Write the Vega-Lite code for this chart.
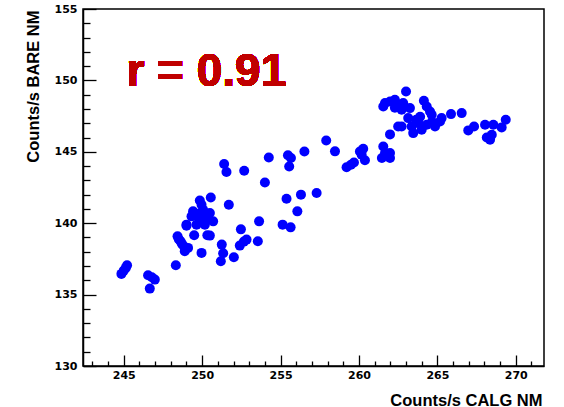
{
  "$schema": "https://vega.github.io/schema/vega-lite/v6.json",
  "autosize": "none",
  "width": 461,
  "height": 357,
  "padding": {"left": 83, "top": 9, "right": 20, "bottom": 41},
  "background": "white",
  "config": {
    "view": {"stroke": "black", "strokeWidth": 1.5},
    "axis": {
      "grid": false,
      "domainColor": "black",
      "domainWidth": 1.5,
      "tickColor": "black",
      "tickWidth": 1.3,
      "labelFont": "DejaVu Sans",
      "labelFontWeight": "bold",
      "labelFontSize": 11,
      "labelColor": "black",
      "labelOverlap": false,
      "titleFont": "Liberation Sans",
      "titleFontWeight": "bold",
      "titleFontSize": 16.5,
      "titleColor": "black"
    }
  },
  "data": {
    "values": [
      {"calg": 244.85, "bare": 136.45}, {"calg": 245.0, "bare": 136.68}, {"calg": 245.13, "bare": 136.87}, {"calg": 245.21, "bare": 137.05},
      {"calg": 246.55, "bare": 136.35}, {"calg": 246.79, "bare": 136.22}, {"calg": 246.98, "bare": 136.05}, {"calg": 246.66, "bare": 135.42},
      {"calg": 248.32, "bare": 137.05}, {"calg": 248.43, "bare": 139.08}, {"calg": 248.51, "bare": 138.88}, {"calg": 248.62, "bare": 138.73},
      {"calg": 248.7, "bare": 138.57}, {"calg": 248.83, "bare": 138.38}, {"calg": 249.1, "bare": 138.27}, {"calg": 248.89, "bare": 138.03},
      {"calg": 249.0, "bare": 139.83}, {"calg": 249.49, "bare": 139.15}, {"calg": 249.96, "bare": 137.92}, {"calg": 250.33, "bare": 139.15},
      {"calg": 250.55, "bare": 141.8}, {"calg": 249.85, "bare": 141.59}, {"calg": 249.96, "bare": 141.29}, {"calg": 249.42, "bare": 140.83},
      {"calg": 250.06, "bare": 140.94}, {"calg": 250.49, "bare": 140.71}, {"calg": 249.32, "bare": 140.48}, {"calg": 249.85, "bare": 140.24},
      {"calg": 250.28, "bare": 140.24}, {"calg": 250.7, "bare": 140.13}, {"calg": 249.0, "bare": 139.9}, {"calg": 249.64, "bare": 139.9},
      {"calg": 250.17, "bare": 139.9}, {"calg": 249.66, "bare": 140.66}, {"calg": 250.11, "bare": 140.52}, {"calg": 251.7, "bare": 141.29},
      {"calg": 250.49, "bare": 139.13}, {"calg": 251.4, "bare": 144.14}, {"calg": 251.55, "bare": 143.58}, {"calg": 252.68, "bare": 143.67},
      {"calg": 254.25, "bare": 144.6}, {"calg": 254.0, "bare": 142.85}, {"calg": 252.47, "bare": 139.57}, {"calg": 253.63, "bare": 140.13},
      {"calg": 251.25, "bare": 138.5}, {"calg": 251.34, "bare": 137.89}, {"calg": 251.19, "bare": 137.33}, {"calg": 252.02, "bare": 137.62},
      {"calg": 252.4, "bare": 138.43}, {"calg": 252.66, "bare": 138.71}, {"calg": 252.83, "bare": 138.85}, {"calg": 253.55, "bare": 138.73},
      {"calg": 255.38, "bare": 141.71}, {"calg": 255.13, "bare": 139.9}, {"calg": 255.64, "bare": 139.71}, {"calg": 256.07, "bare": 140.83},
      {"calg": 256.3, "bare": 142.0}, {"calg": 257.3, "bare": 142.11}, {"calg": 255.47, "bare": 144.76}, {"calg": 255.66, "bare": 144.56},
      {"calg": 255.55, "bare": 143.97}, {"calg": 256.52, "bare": 145.02}, {"calg": 257.91, "bare": 145.79}, {"calg": 258.47, "bare": 145.03},
      {"calg": 259.21, "bare": 143.92}, {"calg": 259.49, "bare": 144.09}, {"calg": 259.68, "bare": 144.25}, {"calg": 260.06, "bare": 145.02},
      {"calg": 260.27, "bare": 145.21}, {"calg": 260.17, "bare": 144.79}, {"calg": 260.38, "bare": 144.41}, {"calg": 261.55, "bare": 145.37},
      {"calg": 261.66, "bare": 144.91}, {"calg": 261.98, "bare": 144.91}, {"calg": 261.46, "bare": 144.56}, {"calg": 261.98, "bare": 144.56},
      {"calg": 261.98, "bare": 146.22}, {"calg": 262.5, "bare": 146.77}, {"calg": 263.0, "bare": 149.22}, {"calg": 261.66, "bare": 148.41},
      {"calg": 261.98, "bare": 148.52}, {"calg": 261.55, "bare": 148.17}, {"calg": 262.29, "bare": 148.64}, {"calg": 262.5, "bare": 148.29},
      {"calg": 262.82, "bare": 148.41}, {"calg": 262.72, "bare": 147.94}, {"calg": 263.25, "bare": 148.06}, {"calg": 264.14, "bare": 148.57},
      {"calg": 264.32, "bare": 148.17}, {"calg": 264.53, "bare": 147.82}, {"calg": 264.64, "bare": 147.59}, {"calg": 263.14, "bare": 147.36},
      {"calg": 262.72, "bare": 146.77}, {"calg": 263.36, "bare": 146.77}, {"calg": 263.46, "bare": 146.31}, {"calg": 263.78, "bare": 147.01},
      {"calg": 264.0, "bare": 146.54}, {"calg": 264.32, "bare": 146.89}, {"calg": 264.85, "bare": 146.77}, {"calg": 265.17, "bare": 147.12},
      {"calg": 265.27, "bare": 147.36}, {"calg": 265.87, "bare": 147.64}, {"calg": 266.55, "bare": 147.71}, {"calg": 266.97, "bare": 146.5},
      {"calg": 267.34, "bare": 146.77}, {"calg": 268.04, "bare": 146.89}, {"calg": 268.57, "bare": 146.89}, {"calg": 269.1, "bare": 146.71},
      {"calg": 269.36, "bare": 147.24}, {"calg": 268.15, "bare": 146.0}, {"calg": 268.47, "bare": 146.19}, {"calg": 268.36, "bare": 145.84},
      {"calg": 263.65, "bare": 147.24}, {"calg": 262.29, "bare": 148.08}, {"calg": 263.9, "bare": 147.45}, {"calg": 264.66, "bare": 147.1}
    ]
  },
  "layer": [
    {
      "mark": {"type": "circle", "color": "#0000ff", "opacity": 1, "size": 100},
      "encoding": {
        "x": {
          "field": "calg", "type": "quantitative",
          "scale": {"domain": [242.4, 271.8], "nice": false, "zero": false},
          "axis": {
            "title": "Counts/s CALG NM",
            "values": [243,244,245,246,247,248,249,250,251,252,253,254,255,256,257,258,259,260,261,262,263,264,265,266,267,268,269,270,271],
            "tickCount": 200,
            "format": "d",
            "labelExpr": "datum.value % 5 === 0 ? datum.label : ''",
            "tickSize": {"condition": {"test": "datum.value % 5 === 0", "value": -11}, "value": -5},
            "labelPadding": 14,
            "labelFlush": false,
            "titleAnchor": "end",
            "titleAlign": "right",
            "titleBaseline": "alphabetic",
            "titleX": 459,
            "titleY": 39
          }
        },
        "y": {
          "field": "bare", "type": "quantitative",
          "scale": {"domain": [130, 155], "nice": false, "zero": false},
          "axis": {
            "title": "Counts/s BARE NM",
            "values": [130,131,132,133,134,135,136,137,138,139,140,141,142,143,144,145,146,147,148,149,150,151,152,153,154,155],
            "tickCount": 200,
            "format": "d",
            "labelExpr": "datum.value % 5 === 0 ? datum.label : ''",
            "tickSize": {"condition": {"test": "datum.value % 5 === 0", "value": -13}, "value": -7},
            "labelPadding": 19,
            "labelFlush": false,
            "titleAnchor": "end",
            "titleAlign": "right",
            "titleAngle": -90,
            "titleBaseline": "middle",
            "titleX": -49.5,
            "titleY": 1
          }
        }
      }
    },
    {
      "mark": {"type": "text", "text": "r = 0.91", "font": "Liberation Sans", "fontWeight": "bold", "fontSize": 46, "color": "#c00000", "align": "left", "baseline": "alphabetic"},
      "encoding": {
        "x": {"datum": 245.17, "type": "quantitative"},
        "y": {"datum": 149.64, "type": "quantitative"}
      }
    }
  ]
}
